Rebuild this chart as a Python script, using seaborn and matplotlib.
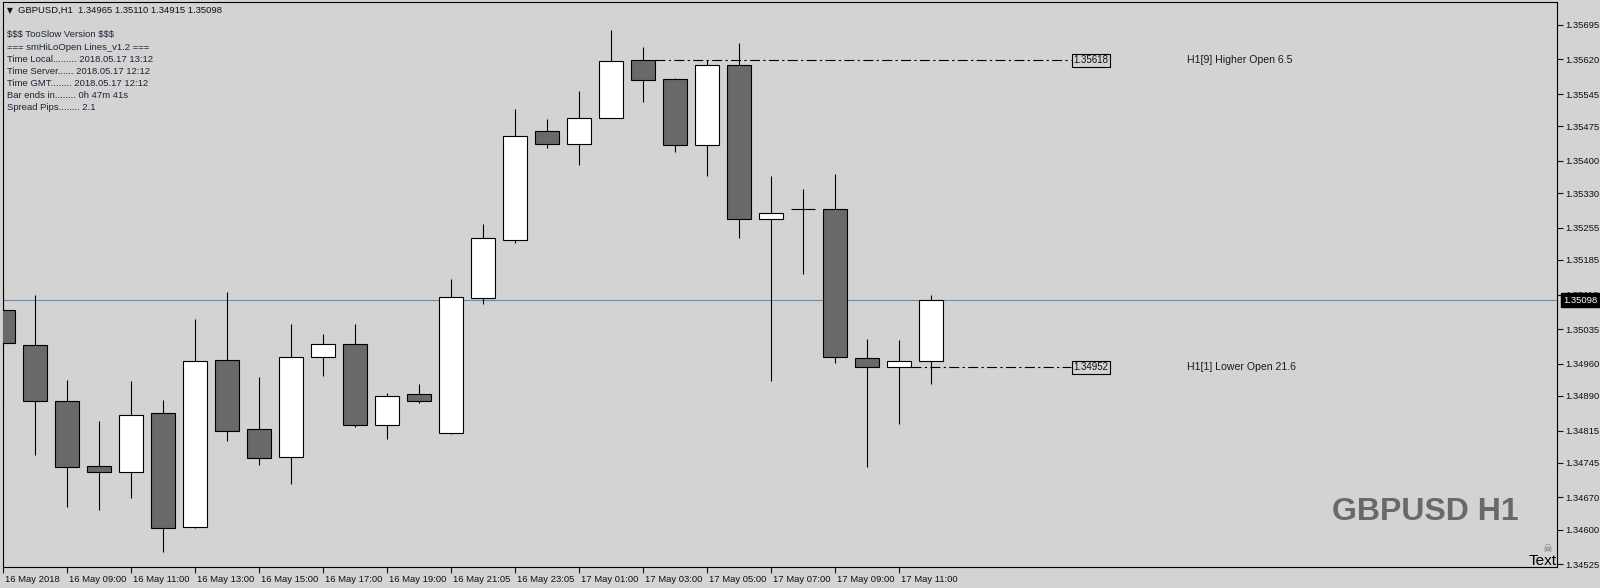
import matplotlib
matplotlib.use("Agg")
import matplotlib.pyplot as plt
import matplotlib.transforms as mtransforms
import seaborn as sns
import pandas as pd

# GBPUSD H1 bars, 16 May 07:00 -> 17 May 12:00
opens = [1.35076, 1.35000, 1.34880, 1.34739, 1.34724, 1.34854, 1.34605, 1.34967, 1.34818, 1.34757,
         1.34974, 1.35002, 1.34828, 1.34894, 1.34809, 1.35102, 1.35228, 1.35464, 1.35437, 1.35492,
         1.35618, 1.35577, 1.35434, 1.35607, 1.35273, 1.35295, 1.35295, 1.34972, 1.34952, 1.34965]
highs = [1.35118, 1.35109, 1.34924, 1.34836, 1.34922, 1.34881, 1.35057, 1.35115, 1.34931, 1.35046,
         1.35024, 1.35046, 1.34896, 1.34916, 1.35144, 1.35263, 1.35512, 1.35491, 1.35551, 1.35684,
         1.35647, 1.35579, 1.35618, 1.35656, 1.35367, 1.35339, 1.35371, 1.35013, 1.35011, 1.35110]
lows = [1.34869, 1.34762, 1.34650, 1.34643, 1.34669, 1.34552, 1.34603, 1.34793, 1.34741, 1.34700,
        1.34934, 1.34823, 1.34797, 1.34875, 1.34807, 1.35090, 1.35222, 1.35428, 1.35392, 1.35492,
        1.35528, 1.35420, 1.35368, 1.35233, 1.34923, 1.35154, 1.34962, 1.34735, 1.34830, 1.34915]
closes = [1.35004, 1.34880, 1.34737, 1.34724, 1.34848, 1.34603, 1.34966, 1.34815, 1.34755, 1.34974,
          1.35002, 1.34828, 1.34889, 1.34880, 1.35104, 1.35232, 1.35455, 1.35436, 1.35492, 1.35616,
          1.35575, 1.35434, 1.35607, 1.35273, 1.35286, 1.35295, 1.34974, 1.34952, 1.34965, 1.35098]

time_labels = ["16 May 2018", "16 May 09:00", "16 May 11:00", "16 May 13:00", "16 May 15:00",
               "16 May 17:00", "16 May 19:00", "16 May 21:05", "16 May 23:05", "17 May 01:00",
               "17 May 03:00", "17 May 05:00", "17 May 07:00", "17 May 09:00", "17 May 11:00"]
price_ticks = [1.35695, 1.35620, 1.35545, 1.35475, 1.35400, 1.35330, 1.35255, 1.35185, 1.35110,
               1.35035, 1.34960, 1.34890, 1.34815, 1.34745, 1.34670, 1.34600, 1.34525]

info_lines = ["$$$ TooSlow Version $$$",
              "=== smHiLoOpen Lines_v1.2 ===",
              "Time Local......... 2018.05.17 13:12",
              "Time Server...... 2018.05.17 12:12",
              "Time GMT........ 2018.05.17 12:12",
              "Bar ends in........ 0h 47m 41s",
              "Spread Pips........ 2.1"]

last_price = 1.35098
higher_open = {"bar": 20, "price": 1.35618, "text": "H1[9] Higher Open 6.5"}
lower_open = {"bar": 28, "price": 1.34952, "text": "H1[1] Lower Open 21.6"}

BG = "#d3d3d3"
BEAR = "#696969"

df = pd.DataFrame({"open": opens, "high": highs, "low": lows, "close": closes})
df["bar"] = range(len(df))
df["bull"] = df["close"] >= df["open"]

sns.set_theme(style="ticks", rc={"axes.facecolor": BG, "figure.facecolor": BG,
                                 "axes.edgecolor": "black", "axes.linewidth": 0.8})
plt.rcParams["font.family"] = ["Liberation Sans", "DejaVu Sans"]

W, H = 1600, 588
fig = plt.figure(figsize=(W / 100, H / 100), dpi=100)
ax = fig.add_axes([2.7 / W, 21 / H, (1557 - 2.7) / W, (567 - 2.3) / H])


def px(x, y):
    return x / W, 1 - y / H


# wicks and bodies
ax.vlines(df["bar"], df["low"], df["high"], color="black", lw=0.8, zorder=2)
ax.bar(df["bar"], (df["close"] - df["open"]).abs(), width=0.75,
       bottom=df[["open", "close"]].min(axis=1),
       color=["white" if b else BEAR for b in df["bull"]],
       edgecolor="black", linewidth=0.8, zorder=3)

ax.axhline(last_price, color="#778899", lw=0.8, zorder=1)

# hi/lo open lines with price boxes
for item in (higher_open, lower_open):
    ax.plot([item["bar"] + 0.375, 33.375], [item["price"]] * 2, color="black", lw=0.8,
            dashes=(9, 3, 2, 3), zorder=2)
    ax.text(34.0, item["price"], f"{item['price']:.5f}", ha="center", va="center",
            fontsize=7, color="#101010",
            bbox=dict(boxstyle="square,pad=0.12", fc="none", ec="black", lw=0.8))
    ax.text(37.0, item["price"], item["text"], ha="left", va="center", fontsize=7.6,
            color="#1a1a1a")

ax.set_xlim(-0.01, 48.56)
ax.set_ylim(1.34519, 1.35744)

ax.yaxis.tick_right()
ax.set_yticks(price_ticks)
ax.set_yticklabels([f"{v:.5f}" for v in price_ticks])
ax.set_xticks(range(0, len(df), 2))
ax.set_xticklabels(time_labels, ha="left")
ax.tick_params(axis="y", right=True, left=False, length=4, width=0.8, pad=2,
               labelsize=6.8, colors="#101010")
ax.tick_params(axis="x", bottom=True, length=4, width=0.8, pad=1.5,
               labelsize=6.8, colors="#101010")
for lab in ax.get_xticklabels():
    lab.set_transform(lab.get_transform() + mtransforms.ScaledTranslation(1.5 / 100, 0, fig.dpi_scale_trans))
for s in ax.spines.values():
    s.set_visible(True)
    s.set_color("black")
    s.set_linewidth(0.8)
ax.set_xlabel("")
ax.set_ylabel("")

# current price marker on the axis (covers the 1.35110 tick label as in the terminal)
trans = mtransforms.blended_transform_factory(ax.transAxes, ax.transData)
trans = trans + mtransforms.ScaledTranslation(6 / 100, 0, fig.dpi_scale_trans)
ax.text(1.0, last_price, f"{last_price:.5f}", transform=trans, ha="left", va="center",
        fontsize=6.8, color="white", clip_on=False, zorder=10,
        bbox=dict(boxstyle="square,pad=0.25", fc="black", ec="black"))

# header and indicator info
fig.text(*px(7, 10.7), "\u25bc", fontsize=5.5, va="center", ha="left",
         family=["DejaVu Sans"], color="#101010")
fig.text(*px(18, 10.7), "GBPUSD,H1  1.34965 1.35110 1.34915 1.35098", fontsize=6.8,
         va="center", ha="left", color="#101010")
for i, line in enumerate(info_lines):
    fig.text(*px(7, 35 + 12 * i), line, fontsize=6.8, va="center", ha="left",
             color="#1c2436", parse_math=False)

fig.text(*px(1519, 512), "GBPUSD H1", fontsize=23, fontweight="bold", ha="right", va="center",
         family=["Liberation Sans", "DejaVu Sans"], color="#696969")
fig.text(*px(1547, 549), "\u2620", fontsize=8, ha="center", va="center",
         family=["DejaVu Sans"], color="#6e6e6e")
fig.text(*px(1557, 565), "Text", fontsize=11, ha="right", va="baseline", color="black")

fig.savefig("out.png", dpi=100, facecolor=BG)
